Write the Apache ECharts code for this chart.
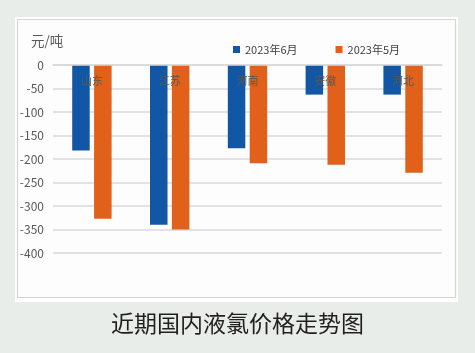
<!DOCTYPE html>
<html>
<head>
<meta charset="utf-8">
<script src="https://cdn.jsdelivr.net/npm/echarts@6/dist/echarts.min.js"></script>
<style>
  html, body { margin: 0; padding: 0; background: #e8ede9; }
  #main { width: 475px; height: 353px; }
</style>
</head>
<body>
<div id="main"></div>
<script>
// 液氯价格涨跌
var provinces = ['山东', '江苏', '河南', '安徽', '河北'];
var june = [-182, -340, -177, -63, -63];
var may = [-327, -350, -209, -212, -229];
var seriesNames = ['2023年6月', '2023年5月'];

var chart = echarts.init(document.getElementById('main'));
var font = '"Noto Sans CJK SC", "Noto Sans", sans-serif';

var option = {
  backgroundColor: '#e8ede9',
  textStyle: { fontFamily: font },
  graphic: [
    { type: 'rect', z: -10, shape: { x: 15, y: 17, width: 443, height: 285 }, style: { fill: '#ffffff' } },
    { type: 'rect', z: -9, shape: { x: 17.5, y: 19.5, width: 438, height: 278 }, style: { fill: '#fdfdfd', stroke: '#d6d6d6', lineWidth: 1.2 } },
    { type: 'text', left: 31, top: 34, style: { text: '元/吨', fontSize: 13.5, fill: '#595959', fontFamily: font } },
    { type: 'text', left: 'center', top: 312, style: { text: '近期国内液氯价格走势图', fontSize: 23, fill: '#231f20', fontFamily: font } }
  ],
  legend: {
    left: 228,
    top: 39,
    itemWidth: 7,
    itemHeight: 7,
    itemGap: 38,
    icon: 'rect',
    textStyle: { fontSize: 11, color: '#404040', fontFamily: font },
    data: seriesNames
  },
  grid: { left: 53, right: 33, top: 65, bottom: 100, containLabel: false },
  xAxis: {
    type: 'category',
    data: provinces,
    position: 'top',
    z: 5,
    axisLine: { onZero: false, lineStyle: { color: '#d9d9d9', width: 1.5 } },
    axisTick: { show: false },
    axisLabel: { inside: true, color: '#595959', fontSize: 11, margin: 10 }
  },
  yAxis: {
    type: 'value',
    min: -400,
    max: 0,
    interval: 50,
    axisLine: { show: false },
    axisTick: { show: false },
    axisLabel: { color: '#595959', fontSize: 12, margin: 9 },
    splitLine: { lineStyle: { color: '#d9d9d9', width: 1.5 } }
  },
  series: [
    { name: seriesNames[0], type: 'bar', data: june, barWidth: '22.5%', barGap: '25%', itemStyle: { color: '#1256a6' } },
    { name: seriesNames[1], type: 'bar', data: may, barWidth: '22.5%', barGap: '25%', itemStyle: { color: '#e1601a' } }
  ]
};

chart.setOption(option);
</script>
</body>
</html>
